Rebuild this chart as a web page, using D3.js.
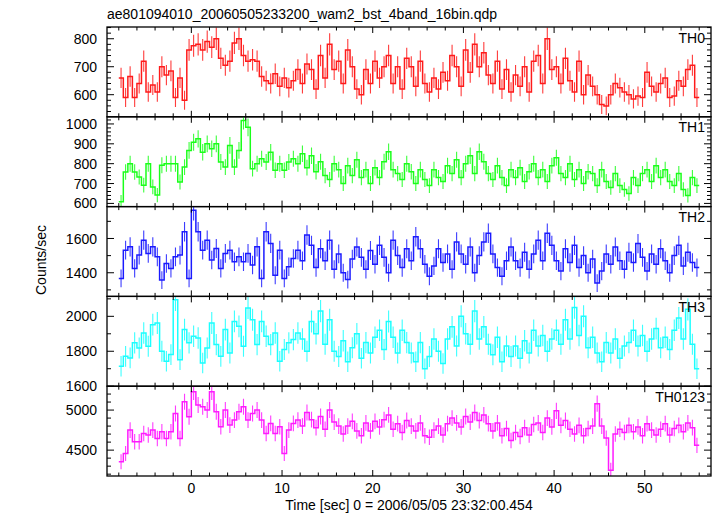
<!DOCTYPE html>
<html><head><meta charset="utf-8">
<script src="https://cdn.jsdelivr.net/npm/d3@7"></script>
<style>body{margin:0;background:#fff}svg{display:block}text{font-family:"Liberation Sans",Arial,sans-serif;fill:#000}</style>
</head><body><div id="chart"></div>
<script>
const title = "ae801094010_20060505233200_wam2_bst_4band_16bin.qdp";
const xLabel = "Time [sec] 0 = 2006/05/05 23:32:00.454";
const yLabel = "Counts/sec";
const binWidth = 0.5;
const tStart = -8;
const xDomain = [-9.3, 57.3];
const xTickLabels = [0, 10, 20, 30, 40, 50];
const bandNames = ["TH0", "TH1", "TH2", "TH3", "TH0123"];
const bandColors = ["#ff1a1a", "#1aff1a", "#1a1aff", "#1affff", "#ff1aff"];
const yDomains = [[521, 842], [584, 1036], [1262, 1786], [1600, 2114], [4177, 5298]];
const yMajorTicks = [[600, 700, 800], [600, 700, 800, 900, 1000], [1400, 1600], [1600, 1800, 2000], [4500, 5000]];
const yMinorSteps = [20, 20, 100, 100, 100];

const th0 = [660,590,665,590,640,720,610,635,610,700,670,685,590,660,580,760,
 775,780,760,790,770,800,730,705, 720,785,800,740,720,725,720,665,
 650,640,675,630,660,625,650,690, 640,710,690,620,740,660,780,690,
 720,640,760,700,620,600,690,640, 720,660,700,740,640,700,620,730,
 700,630,720,640,610,660,620,680, 650,740,700,630,760,680,780,700,
 750,670,640,720,620,690,610,670, 630,700,610,720,740,640,800,690,
 700,640,730,650,610,720,600,670, 630,600,565,560,600,640,625,610,
 600,585,595,590,680,630,610,640, 660,590,595,650,630,690,705,590];
const th1 = [608,758,800,758,733,692,800,683,642,792,800,800,800,708,783,867,
 908,925,858,900,875,900,808,783,892,783,867,1017,983,775,800,825,
 808,858,767,800,767,808,825,800,850, 780,840,760,810,740,720,800,
 770,700,790,740,820,730,770,700, 780,730,810,860,770,750,720,800,
 760,700,770,720,690,770,730,710, 790,750,820,730,800,840,750,860,
 810,750,720,790,730,690,770,730, 780,710,760,800,730,770,710,790,
 830,750,730,800,720,770,700,760, 750,690,770,710,680,750,690,670,
 650,730,690,750,770,710,790,730, 770,710,690,750,670,640,730,690];
const th2 = [1367,1532,1551,1425,1503,1590,1513,1551,1493,1357,1454,1425,1493,1503,1639,1367,
 1765,1639,1532,1590,1474,1542,1425,1513,1532,1464,1493,1464,1513,1445,1551,1367,
 1639,1571,1386,1532,1367,1435,1483,1532, 1470,1620,1560,1430,1540,1470,1590,1420,
 1510,1400,1360,1480,1550,1490,1420,1530, 1450,1560,1490,1400,1590,1500,1430,1540,
 1470,1610,1540,1450,1380,1440,1540,1460, 1510,1420,1580,1510,1450,1550,1400,1500,
 1580,1630,1510,1430,1380,1470,1550,1470, 1430,1520,1420,1510,1590,1470,1630,1560,
 1470,1410,1540,1460,1560,1430,1500,1400, 1480,1340,1410,1510,1450,1550,1470,1420,
 1520,1460,1570,1490,1410,1510,1450,1540, 1470,1400,1500,1560,1440,1520,1460,1430];
const th3 = [1714,1771,1762,1848,1819,1905,1829,1952,1962,1800,1743,1781,2095,1752,1924,1848,
 1886,1876,1733,1819,1962,1838,1771,1924,1790,1971,1943,1829,2048,1981,1838,1971,
 1886,1838,1905,1743,1810,1848,1867,1905, 1870,1800,1970,1900,2030,1840,1980,1800,
 1770,1860,1740,1820,1900,1760,1850,1790, 1880,1920,1810,1970,1880,1790,1920,1850,
 1790,1740,1850,1700,1770,1870,1800,1730, 1870,1940,1830,2000,1900,1840,2030,1870,
 1940,1840,1780,1880,1740,1830,1770,1830, 1760,1860,1790,1920,1830,1890,1800,1870,
 1920,1840,1980,1870,2050,1890,2000,1820, 1880,1790,1740,1850,1790,1870,1760,1830,
 1850,1920,1830,1890,1800,1870,1930,1820, 1880,1810,1920,1990,1870,2040,1840,1700];
const th0123 = [4354,4458,4750,4604,4604,4708,4688,4750,4646,4729,4646,4729,4958,4646,5104,4917,
 5229,5063,5042,5000,5229,4979,4792,5000,4813,4875,4979,5042,4875,4958,5000,4875,
 4708,4833,4708,4792,4458,4750,4833,4875, 4800,4970,4880,4780,4920,4760,5000,4850,
 4800,4700,4800,4860,4740,4680,4840,4740, 4860,4790,4880,4940,4760,4830,4720,4870,
 4800,4740,4840,4680,4660,4750,4800,4690, 4830,4900,4840,4790,4920,4850,4970,4870,
 4940,4830,4740,4840,4680,4770,4620,4720, 4670,4780,4690,4820,4840,4720,4900,4790,
 4990,4810,4870,4760,4700,4810,4680,4770, 4800,5080,4800,4650,4250,4700,4760,4720,
 4810,4730,4790,4680,4830,4750,4690,4760, 4830,4690,4770,4810,4730,4840,4780,4560];
const series = [th0, th1, th2, th3, th0123];

const W = 717, H = 516;
const L = 107, R = 711, T = 27, B = 476;
const ph = (B - T) / series.length;

const svg = d3.select("#chart").append("svg").attr("width", W).attr("height", H);
const x = d3.scaleLinear().domain(xDomain).range([L, R]);
const xMinor = d3.range(-8, 57, 2);

series.forEach((vals, p) => {
  const y0 = T + p * ph, y1 = y0 + ph;
  const y = d3.scaleLinear().domain(yDomains[p]).range([y1, y0]);
  const g = svg.append("g");
  const cid = "clip" + p;
  svg.append("clipPath").attr("id", cid).append("rect").attr("x", L).attr("y", y0).attr("width", R - L).attr("height", ph);
  const data = vals.map((v, i) => ({t0: tStart + i * binWidth, tc: tStart + (i + 0.5) * binWidth, t1: tStart + (i + 1) * binWidth, v, e: Math.sqrt(v * binWidth) / binWidth}));
  const dg = g.append("g").attr("clip-path", `url(#${cid})`);
  dg.selectAll("line.err").data(data).enter().append("line")
    .attr("x1", d => x(d.tc)).attr("x2", d => x(d.tc))
    .attr("y1", d => y(d.v - d.e)).attr("y2", d => y(d.v + d.e))
    .attr("stroke", bandColors[p]).attr("stroke-width", 1.1).attr("stroke-opacity", 0.85);
  const line = d3.line().curve(d3.curveStepAfter).x(d => x(d[0])).y(d => y(d[1]));
  const pts = data.map(d => [d.t0, d.v]);
  pts.push([data[data.length - 1].t1, data[data.length - 1].v]);
  dg.append("path").attr("d", line(pts)).attr("fill", "none").attr("stroke", bandColors[p]).attr("stroke-width", 1.5);
  g.append("rect").attr("x", L).attr("y", y0).attr("width", R - L).attr("height", ph).attr("fill", "none").attr("stroke", "#000").attr("stroke-width", 1.3);
  xMinor.forEach(tv => {
    const len = tv % 10 === 0 ? 6 : 3.5;
    const xx = x(tv);
    g.append("line").attr("x1", xx).attr("x2", xx).attr("y1", y0).attr("y2", y0 + len).attr("stroke", "#000").attr("stroke-width", 1);
    g.append("line").attr("x1", xx).attr("x2", xx).attr("y1", y1).attr("y2", y1 - len).attr("stroke", "#000").attr("stroke-width", 1);
  });
  const dom = yDomains[p];
  const minors = d3.range(Math.ceil(dom[0] / yMinorSteps[p]) * yMinorSteps[p], dom[1], yMinorSteps[p]);
  minors.forEach(v => {
    const major = yMajorTicks[p].includes(v);
    const len = major ? 7 : 4;
    const yy = y(v);
    g.append("line").attr("x1", L).attr("x2", L + len).attr("y1", yy).attr("y2", yy).attr("stroke", "#000").attr("stroke-width", 1);
    g.append("line").attr("x1", R).attr("x2", R - len).attr("y1", yy).attr("y2", yy).attr("stroke", "#000").attr("stroke-width", 1);
  });
  yMajorTicks[p].forEach(v => {
    g.append("text").attr("x", 97).attr("y", y(v)).attr("dy", "0.36em").attr("text-anchor", "end").attr("font-size", 14).text(v);
  });
  g.append("text").attr("x", 705).attr("y", y0 + 15.5).attr("text-anchor", "end").attr("font-size", 14).text(bandNames[p]);
});

xTickLabels.forEach(v => {
  svg.append("text").attr("x", x(v)).attr("y", 493).attr("text-anchor", "middle").attr("font-size", 14).text(v);
});
svg.append("text").attr("x", (L + R) / 2).attr("y", 510).attr("text-anchor", "middle").attr("font-size", 14).text(xLabel);
svg.append("text").attr("x", 107).attr("y", 19).attr("font-size", 14).text(title);
svg.append("text").attr("transform", "translate(46,260) rotate(-90)").attr("text-anchor", "middle").attr("font-size", 14).text(yLabel);
</script></body></html>
